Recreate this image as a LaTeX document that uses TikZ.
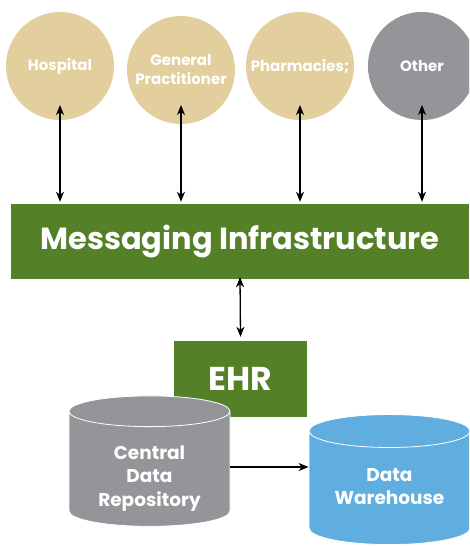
\documentclass[tikz,border=0pt]{standalone}
\usepackage{fontspec}
\setmainfont{Poppins}
\usetikzlibrary{arrows.meta,shapes.geometric,positioning}
\definecolor{tan}{HTML}{E2CF9D}
\definecolor{slate}{HTML}{939598}
\definecolor{leaf}{HTML}{548027}
\definecolor{sky}{HTML}{60AEE0}
\tikzstyle{party}=[circle,fill=tan,minimum size=108pt,inner sep=0pt,text=white,font=\bfseries\fontsize{15}{19}\selectfont,align=center]
\tikzstyle{bar}=[rectangle,fill=leaf,inner sep=0pt,text=white,font=\bfseries\fontsize{30.5}{32}\selectfont]
\tikzstyle{store}=[cylinder,shape border rotate=90,aspect=0.3,draw=white,line width=0.8pt,inner sep=0pt,minimum width=161pt,minimum height=130pt,text=white,align=center,font=\bfseries\fontsize{18.5}{23.5}\selectfont]
\tikzstyle{edge} = [draw,line width=1.3pt,{Stealth[length=10pt,width=8pt,inset=3pt]}-{Stealth[length=10pt,width=8pt,inset=3pt]}]
\tikzstyle{flow} = [draw,line width=1.3pt,-{Stealth[length=10pt,width=8pt,inset=3pt]}]

\begin{document}
\begin{tikzpicture}[x=1pt,y=-1pt]
    \useasboundingbox (0,0) rectangle (469,546);
    \clip (0,0) rectangle (469,546);

    % the four parties on top
    \foreach \pos/\name/\label in {{(60,66)/hosp/Hospital}, {(181,70)/gp/General\\Practitioner}, {(300,66)/pharm/Pharmacies;}, {(422,66)/other/Other}}
        \node[party] (\name) at \pos {\label};
    \node[party,fill=slate] at (other) {Other};

    % messaging bar and EHR
    \node[bar,minimum width=458pt,minimum height=75pt] (msg) at (240,241.5) {Messaging Infrastructure};
    \node[bar,minimum width=133pt,minimum height=76pt,font=\bfseries\fontsize{33}{34}\selectfont] (ehr) at (240.5,379) {EHR};

    % stores
    \node[store,fill=slate] (cdr) at (149.5,469) {\\[8.5pt]Central\\Data\\Repository};
    \node[store,fill=sky] (dw) at (389.5,488) {\\[-13pt]Data\\Warehouse};

    % connect parties with the bar
    \coordinate (top) at (0,105);
    \foreach \name in {hosp,gp,pharm,other}
        \path[edge] (\name |- top) -- ([yshift=2pt]\name |- msg.north);

    \path[edge] ([yshift=2pt]msg.south) -- ([yshift=4pt]ehr.north);
    \path[flow] (cdr.east |- 0,467) -- (dw.west |- 0,467);

\end{tikzpicture}
\end{document}
